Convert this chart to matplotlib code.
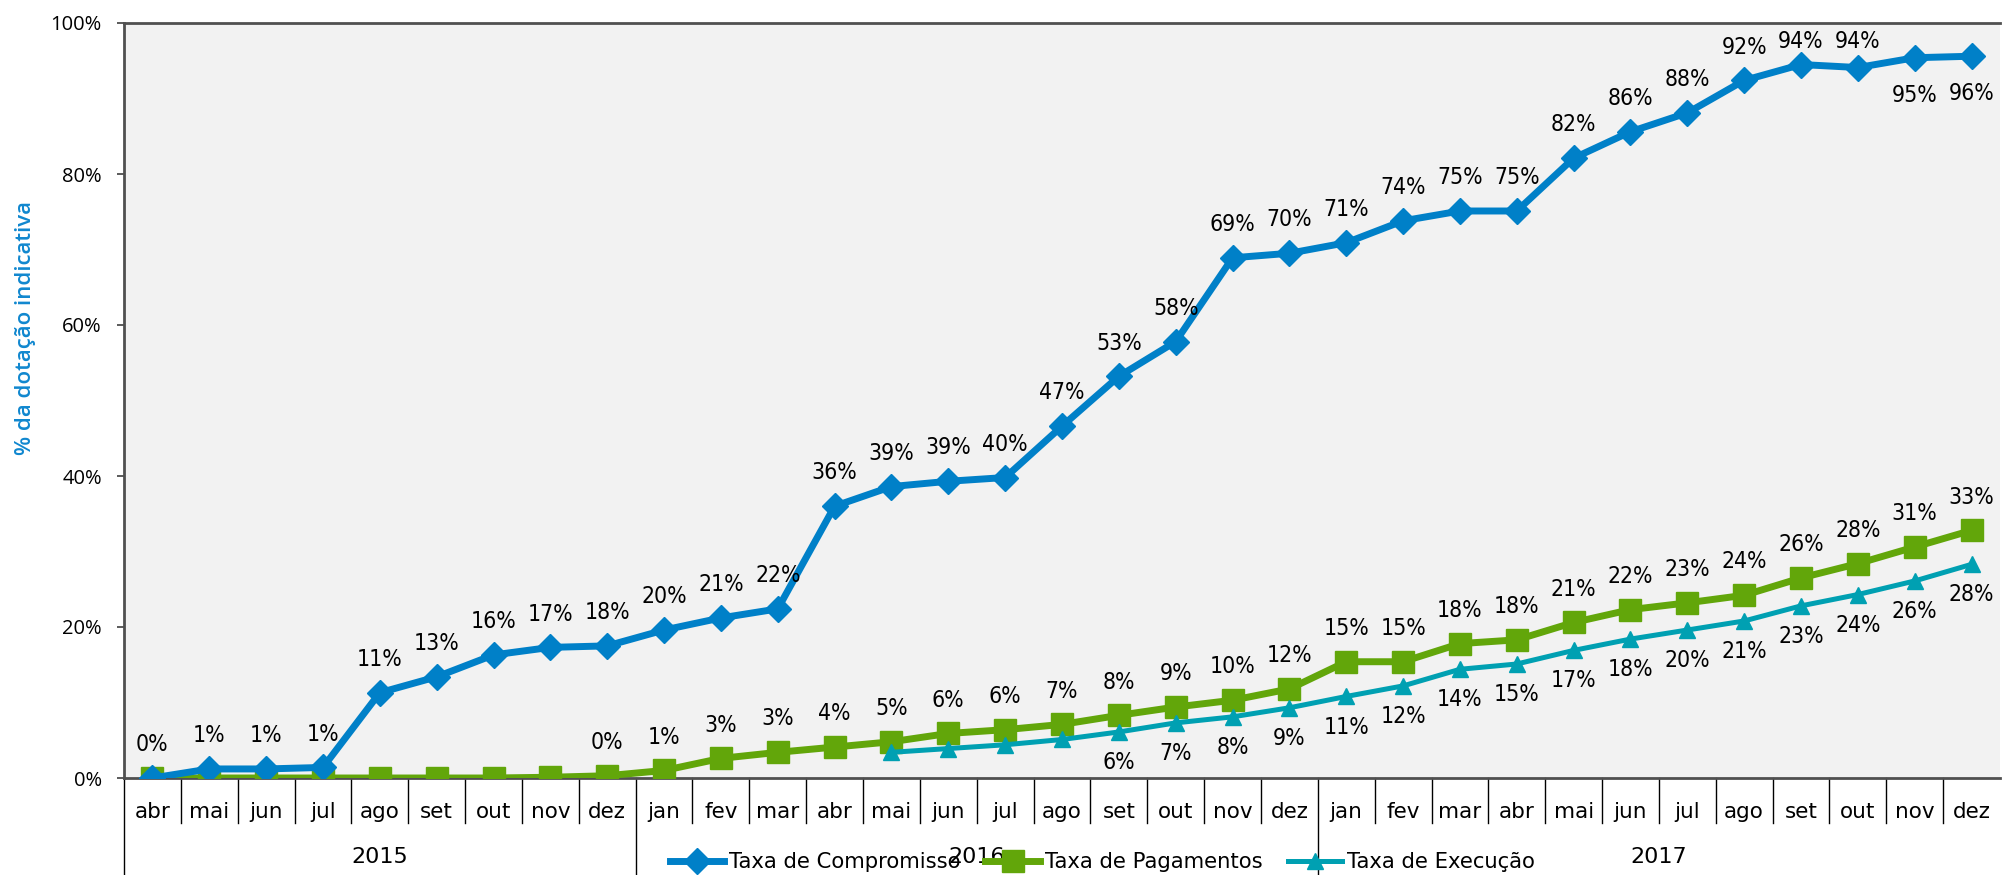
import matplotlib
matplotlib.use("Agg")
import matplotlib.pyplot as plt
import matplotlib.transforms as mtransforms
from matplotlib import font_manager

# months abr 2015 .. dez 2017
months = ["abr", "mai", "jun", "jul", "ago", "set", "out", "nov", "dez",
          "jan", "fev", "mar", "abr", "mai", "jun", "jul", "ago", "set", "out", "nov", "dez",
          "jan", "fev", "mar", "abr", "mai", "jun", "jul", "ago", "set", "out", "nov", "dez"]
years = ["2015", "2016", "2017"]
months_per_year = [9, 12, 12]

compromisso = [0.0, 1.2, 1.2, 1.4, 11.3, 13.4, 16.3, 17.3, 17.5,
               19.6, 21.2, 22.4, 36.0, 38.6, 39.3, 39.8, 46.6, 53.2, 57.8, 68.9, 69.5,
               70.9, 73.8, 75.1, 75.1, 82.1, 85.6, 88.1, 92.4, 94.5, 94.1, 95.4, 95.6]
pagamentos = [0.0, 0.0, 0.0, 0.0, 0.0, 0.0, 0.0, 0.1, 0.3,
              1.0, 2.6, 3.4, 4.1, 4.8, 5.9, 6.4, 7.1, 8.3, 9.4, 10.3, 11.8,
              15.4, 15.4, 17.8, 18.3, 20.6, 22.3, 23.2, 24.2, 26.5, 28.4, 30.6, 32.8]
execucao = [None] * 13 + [3.4, 3.9, 4.4, 5.1, 6.1, 7.3, 8.1, 9.3,
                          10.8, 12.2, 14.4, 15.1, 16.9, 18.4, 19.6, 20.8, 22.8, 24.3, 26.1, 28.3]

# narrow font for the data labels: the installed narrow face closest to regular weight
fonts = font_manager.fontManager.ttflist
narrow = [f for f in fonts
          if ("Narrow" in f.name or "Condensed" in f.name or f.stretch in ("condensed", "semi-condensed"))
          and f.style == "normal"]
if narrow:
    best = min(narrow, key=lambda f: abs((f.weight if isinstance(f.weight, int) else 400) - 400))
    LABELFONT = dict(fontproperties=font_manager.FontProperties(fname=best.fname))
else:
    LABELFONT = dict(family="DejaVu Sans")
CATFONT = "DejaVu Sans"
AXISFONT = "Open Sans"

BLUE = "#0080C8"
GREEN = "#62A60A"
TEAL = "#00A0B2"

fig = plt.figure(figsize=(20.04, 8.75), dpi=100)
ax = fig.add_axes([124 / 2004, 97 / 875, 1876 / 2004, 755 / 875])
ax.set_facecolor("#F2F2F2")

x = list(range(len(months)))
ex = [i for i, v in enumerate(execucao) if v is not None]
ev = [v for v in execucao if v is not None]

ax.plot(x, compromisso, color=BLUE, lw=5, marker="D", ms=13, label="Taxa de Compromisso", zorder=4)
ax.plot(x, pagamentos, color=GREEN, lw=5, marker="s", ms=16, label="Taxa de Pagamentos", zorder=3)
ax.plot(ex, ev, color=TEAL, lw=3.6, marker="^", ms=12, label="Taxa de Execução", zorder=3)

px_per_unit = 755 / 100


def add_label(i, v, dy):
    t = ax.annotate(f"{v:.0f}%", (i, v), xytext=(0, dy), textcoords="offset points",
                    ha="center", va="center", color="black", zorder=6, **LABELFONT)
    t.set_fontsize(16.5)


for i, v in enumerate(compromisso):
    if i >= len(compromisso) - 2:
        dy = -27
    else:
        # keep labels inside the plot area, like the original
        dy = min(24, (97.5 - v) * px_per_unit / 1.389)
    add_label(i, v, dy)
for i, v in enumerate(pagamentos):
    if i >= 8:
        add_label(i, v, 24)
for i, v in zip(ex, ev):
    if i >= 17:
        add_label(i, v, -22)

ax.set_xlim(-0.5, len(months) - 0.5)
ax.set_ylim(0, 100)
ax.set_yticks(range(0, 101, 20))
ax.set_yticklabels([f"{t}%" for t in range(0, 101, 20)], family=AXISFONT, fontsize=14.5)
ax.tick_params(axis="y", length=5, width=1.2, color="#404040", pad=11)

ax.set_xticks(x)
ax.set_xticklabels(months, family=CATFONT, fontsize=15.5)
ax.tick_params(axis="x", length=0, pad=17)

for side in ["left", "bottom", "top"]:
    ax.spines[side].set_color("#505050")
    ax.spines[side].set_linewidth(2)
ax.spines["right"].set_visible(False)

# category separators below the axis
trans = mtransforms.blended_transform_factory(ax.transData, ax.transAxes)
year_edges = [-0.5]
for n in months_per_year:
    year_edges.append(year_edges[-1] + n)
for k in range(len(months) - 1):
    b = k + 0.5
    if b in year_edges:
        continue
    ax.plot([b, b], [0, -0.06], color="black", lw=1, transform=trans, clip_on=False)
for b in year_edges[:-1]:
    ax.plot([b, b], [0, -0.13], color="black", lw=1, transform=trans, clip_on=False)
for y, a, b in zip(years, year_edges[:-1], year_edges[1:]):
    ax.text((a + b) / 2, -0.104, y, transform=trans, ha="center", va="center",
            family=CATFONT, fontsize=16)

fig.text(26 / 2004, 1 - 328 / 875, "% da dotação indicativa", rotation=90, ha="center", va="center",
         color="#1087CF", fontsize=16, family=AXISFONT, fontweight="semibold")

leg = fig.legend(loc="center", bbox_to_anchor=(1102 / 2004, 1 - 862 / 875), ncol=3, frameon=False,
                 prop={"family": CATFONT, "size": 15.2}, handlelength=2.6, handletextpad=0.2,
                 columnspacing=1.2, borderaxespad=0)

fig.savefig("out.png", dpi=100)
